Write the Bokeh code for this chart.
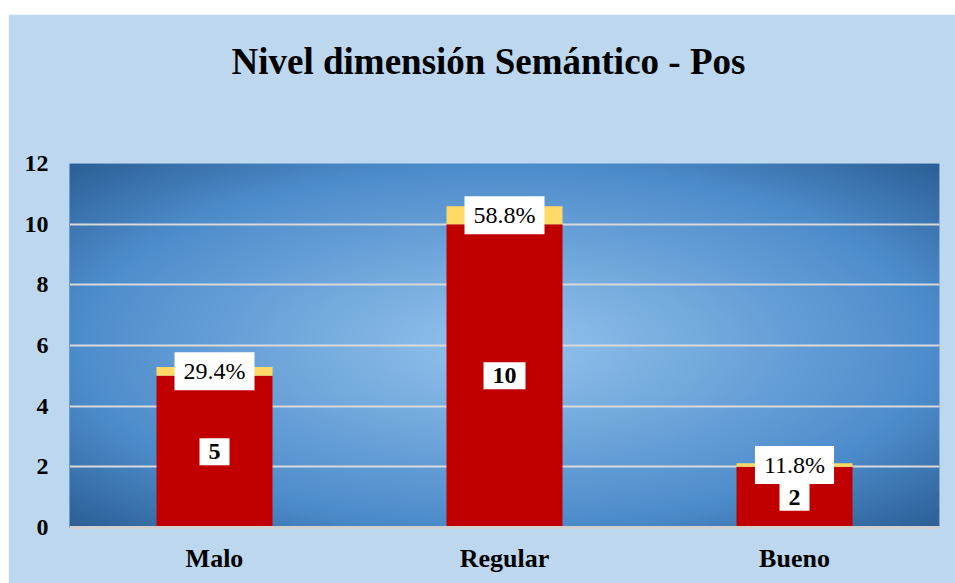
import numpy as np
from bokeh.plotting import figure
from bokeh.models import ColumnDataSource, FixedTicker, Title
from bokeh.core.properties import value
from bokeh.embed import file_html
from bokeh.resources import INLINE

categories = ["Malo", "Regular", "Bueno"]
counts = [5, 10, 2]
percents = [29.4, 58.8, 11.8]
y_ticks = [0, 2, 4, 6, 8, 10, 12]
title_text = "Nivel dimensión Semántico - Pos"

SERIF = "Liberation Serif"

frac = [v / 100.0 for v in percents]
src = ColumnDataSource(dict(
    cat=categories,
    count=counts,
    frac=frac,
    count_mid=[c / 2.0 for c in counts],
    pct_mid=[c + f / 2.0 for c, f in zip(counts, frac)],
    count_lbl=[str(c) for c in counts],
    pct_lbl=["%.1f%%" % v for v in percents],
))

p = figure(x_range=categories, y_range=(0, 12), width=947, height=569,
           output_backend="svg", toolbar_location=None,
           min_border_left=61, min_border_right=16,
           min_border_top=149, min_border_bottom=56)
p.margin = (14, 0, 0, 8)
p.border_fill_color = "#BDD7EE"
p.background_fill_color = "#5A94CF"
p.outline_line_color = None

# spacer between title and plot area, then the title itself
spacer = Title(text=" ", text_font_size="10px", standoff=46)
main_title = Title(text=title_text, align="left", offset=162, vertical_align="bottom",
                   text_font=SERIF, text_font_style="bold", text_font_size="37px",
                   text_color="black", standoff=46)
p.add_layout(spacer, "above")
p.add_layout(main_title, "above")

# radial gradient background (decoration)
H, W = 180, 435
yy, xx = np.mgrid[0:H, 0:W]
dx = (xx - (W - 1) / 2) / ((W - 1) / 2)
dy = (yy - (H - 1) / 2) / ((H - 1) / 2)
r = np.clip(np.sqrt(dx ** 2 + dy ** 2) / np.sqrt(2), 0, 1)
stops_r = [0.0, 0.25, 0.7, 1.0]
stops_c = np.array([[0x95, 0xC5, 0xF0], [0x7C, 0xB0, 0xE1], [0x4D, 0x8C, 0xCB], [0x2C, 0x5F, 0x95]], float)
rgb = np.stack([np.interp(r, stops_r, stops_c[:, k]) for k in range(3)], axis=-1).astype(np.uint32)
img = (255 << 24) | (rgb[..., 2] << 16) | (rgb[..., 1] << 8) | rgb[..., 0]
img = img.astype(np.uint32)
bg = p.image_rgba(image=[img], x=0, y=0, dw=3, dh=12)
bg.level = "image"

p.vbar_stack(["count", "frac"], x="cat", width=0.4, color=["#C00000", "#FFD966"],
             line_color=None, source=src)

p.text(x="cat", y="count_mid", text="count_lbl", source=src,
       text_font=value(SERIF), text_font_style="bold", text_font_size="24px",
       text_align="center", text_baseline="middle", text_color="black",
       background_fill_color="white", padding=(9, 6))
p.text(x="cat", y="pct_mid", text="pct_lbl", source=src,
       text_font=value(SERIF), text_font_size="24px",
       text_align="center", text_baseline="middle", text_color="black",
       background_fill_color="white", padding=(9, 6))

p.xgrid.grid_line_color = None
p.ygrid.grid_line_color = "#D9D9D9"
p.ygrid.grid_line_width = 2
p.yaxis.ticker = FixedTicker(ticks=y_ticks)

for ax in (p.xaxis[0], p.yaxis[0]):
    ax.major_tick_line_color = None
    ax.minor_tick_line_color = None
    ax.major_label_text_font = SERIF
    ax.major_label_text_font_style = "bold"
    ax.major_label_text_color = "black"

p.yaxis.major_label_text_font_size = "24px"
p.yaxis.axis_line_color = "#6A9BD0"
p.yaxis.major_label_standoff = 15
p.xaxis.major_label_text_font_size = "26px"
p.xaxis.axis_line_color = "#D0D0D0"
p.xaxis.axis_line_width = 3
p.xaxis.major_label_standoff = 10

open("out.html", "w").write(file_html(p, INLINE))
